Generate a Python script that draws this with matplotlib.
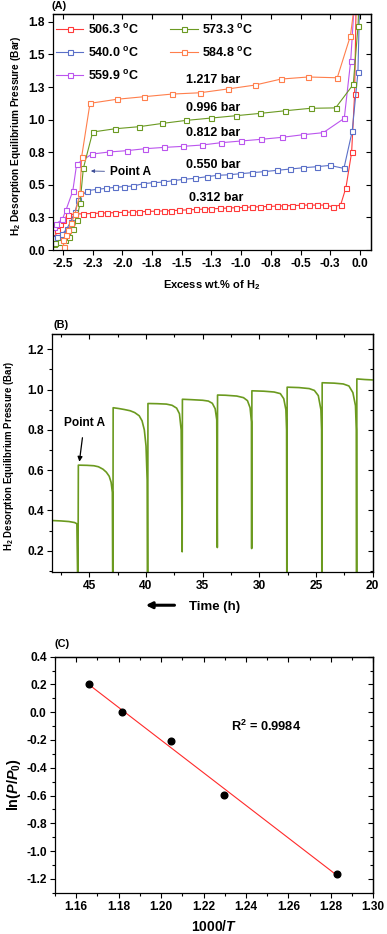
import matplotlib
matplotlib.use("Agg")
import numpy as np
from matplotlib import pyplot as plt
from matplotlib.ticker import MultipleLocator, FixedLocator, NullFormatter

plt.rcParams["font.family"] = ["Liberation Sans", "DejaVu Sans"]
plt.rcParams["font.weight"] = "bold"
plt.rcParams["axes.labelweight"] = "bold"
plt.rcParams["mathtext.fontset"] = "custom"
plt.rcParams["mathtext.rm"] = "Liberation Sans:bold"
plt.rcParams["mathtext.it"] = "Liberation Sans:italic:bold"
plt.rcParams["mathtext.bf"] = "Liberation Sans:bold"
plt.rcParams["axes.linewidth"] = 0.9

# ---- panel A: desorption isotherms ----
temps = ["506.3", "540.0", "559.9", "573.3", "584.8"]
colors = ["#ff3a3a", "#5b70c8", "#bb55ee", "#6b9a22", "#ff7f4c"]

red_x = [-2.58, -2.567, -2.548, -2.525, -2.503, -2.455, -2.40, -2.33, -2.26, -2.19,
         -2.13, -2.06, -1.99, -1.92, -1.86, -1.79, -1.72, -1.65, -1.59, -1.52,
         -1.45, -1.38, -1.31, -1.25, -1.18, -1.11, -1.04, -0.98, -0.91, -0.84,
         -0.77, -0.70, -0.64, -0.57, -0.50, -0.43, -0.36, -0.295, -0.23, -0.163,
         -0.118, -0.07, -0.045, -0.03]
red_y = [0.064, 0.102, 0.153, 0.200, 0.230, 0.270, 0.276, 0.278, 0.280, 0.283,
         0.285, 0.287, 0.289, 0.291, 0.293, 0.296, 0.298, 0.300, 0.302, 0.305,
         0.308, 0.311, 0.314, 0.316, 0.319, 0.322, 0.325, 0.327, 0.330, 0.332,
         0.334, 0.337, 0.339, 0.341, 0.343, 0.345, 0.344, 0.345, 0.332, 0.345,
         0.478, 0.749, 1.196, 2.0]

blue_x = [-2.58, -2.55, -2.51, -2.47, -2.435, -2.40, -2.371, -2.301, -2.217, -2.138,
          -2.062, -1.987, -1.908, -1.824, -1.745, -1.661, -1.577, -1.487, -1.389, -1.291,
          -1.201, -1.105, -1.010, -0.912, -0.808, -0.701, -0.589, -0.477, -0.365, -0.253,
          -0.135, -0.065, -0.017, 0.0]
blue_y = [0.09, 0.10, 0.12, 0.16, 0.217, 0.294, 0.383, 0.455, 0.465, 0.473,
          0.481, 0.486, 0.491, 0.509, 0.516, 0.521, 0.531, 0.542, 0.550, 0.562,
          0.573, 0.577, 0.585, 0.593, 0.601, 0.611, 0.621, 0.631, 0.639, 0.649,
          0.626, 0.912, 1.362, 2.0]

purple_x = [-2.58, -2.56, -2.506, -2.475, -2.418, -2.385, -2.256, -2.110, -1.964, -1.810,
            -1.650, -1.493, -1.333, -1.170, -1.002, -0.833, -0.659, -0.482, -0.309, -0.132,
            -0.078, -0.04]
purple_y = [0.18, 0.20, 0.235, 0.307, 0.452, 0.66, 0.736, 0.752, 0.762, 0.777,
            0.787, 0.795, 0.805, 0.823, 0.836, 0.849, 0.864, 0.884, 0.900, 1.01,
            1.449, 2.0]

green_x = [-2.58, -2.567, -2.525, -2.483, -2.447, -2.413, -2.385, -2.357, -2.329, -2.250,
           -2.062, -1.858, -1.664, -1.465, -1.254, -1.046, -0.839, -0.631, -0.415, -0.205,
           -0.056, -0.016, -0.005]
green_y = [0.045, 0.051, 0.064, 0.077, 0.102, 0.159, 0.230, 0.358, 0.626, 0.905,
           0.930, 0.946, 0.971, 0.994, 1.012, 1.030, 1.048, 1.068, 1.087, 1.090,
           1.270, 1.72, 2.0]

orange_x = [-2.495, -2.497, -2.477, -2.455, -2.431, -2.400, -2.357, -2.343, -2.273, -2.048,
            -1.816, -1.582, -1.347, -1.114, -0.884, -0.665, -0.435, -0.191, -0.080, -0.03]
orange_y = [0.025, 0.077, 0.115, 0.153, 0.205, 0.274, 0.435, 0.716, 1.125, 1.156,
            1.176, 1.196, 1.206, 1.235, 1.265, 1.311, 1.327, 1.321, 1.643, 2.0]

plateau_labels = ["1.217 bar", "0.996 bar", "0.812 bar", "0.550 bar", "0.312 bar"]

a_xticks = [-2.5, -2.25, -2.0, -1.75, -1.5, -1.25, -1.0, -0.75, -0.5, -0.25, 0.0]
a_xticklabels = ["-2.5", "-2.3", "-2.0", "-1.8", "-1.5", "-1.3", "-1.0", "-0.8", "-0.5", "-0.3", "0.0"]
a_yticks = [0.0, 0.25, 0.5, 0.75, 1.0, 1.25, 1.5, 1.75]
a_yticklabels = ["0.0", "0.3", "0.5", "0.8", "1.0", "1.3", "1.5", "1.8"]

# ---- panel B: pressure vs time ----
time_h = [48.27, 47.5, 46.8, 46.3, 46.1, 46.03,
          46.0, 45.97, 45.2, 44.6, 44.2, 43.8, 43.5, 43.25, 43.08, 42.97, 42.94,
          42.92, 42.9, 42.4, 41.9, 41.4, 41.0, 40.6, 40.35, 40.15, 40.0, 39.9, 39.87,
          39.85, 39.83, 39.0, 38.2, 37.7, 37.3, 37.05, 36.9, 36.81,
          36.79, 36.0, 35.0, 34.5, 34.15, 33.9, 33.76, 33.71,
          33.69, 33.0, 32.0, 31.4, 31.05, 30.82, 30.7, 30.68,
          30.66, 29.6, 28.7, 28.15, 27.85, 27.66, 27.6, 27.58,
          27.56, 27.55, 26.5, 25.6, 25.15, 24.8, 24.57, 24.51, 24.49,
          24.47, 24.46, 23.4, 22.6, 22.1, 21.75, 21.52, 21.45, 21.43,
          21.41, 21.40, 20.7, 20.0]
pressure_bar = [0.350, 0.348, 0.345, 0.340, 0.334, 0.05,
                0.05, 0.625, 0.624, 0.622, 0.617, 0.605, 0.590, 0.570, 0.540, 0.49, 0.05,
                0.05, 0.91, 0.906, 0.901, 0.895, 0.886, 0.870, 0.845, 0.80, 0.72, 0.55, 0.05,
                0.05, 0.931, 0.930, 0.928, 0.922, 0.908, 0.88, 0.80, 0.195,
                0.952, 0.950, 0.947, 0.943, 0.932, 0.905, 0.85, 0.216,
                0.973, 0.972, 0.968, 0.96, 0.945, 0.91, 0.84, 0.211,
                0.994, 0.992, 0.988, 0.98, 0.955, 0.90, 0.80, 0.05,
                0.05, 1.012, 1.010, 1.005, 0.996, 0.97, 0.90, 0.80, 0.05,
                0.05, 1.034, 1.032, 1.028, 1.018, 0.985, 0.92, 0.80, 0.05,
                0.05, 1.053, 1.050, 1.048]

# ---- panel C: van't Hoff ----
inv_T = [1.1658, 1.1816, 1.2049, 1.2298, 1.2829]
ln_p = [0.201, -0.001, -0.204, -0.599, -1.165]


def frame_ticks(ax, xmajor, ymajor, xminor=None, yminor=None):
    # origin-style: out on left/bottom, in on top/right
    ax.tick_params(which="both", direction="out", top=False, right=False, width=0.8, labelsize=8.6)
    ax.tick_params(which="major", length=3.5, pad=2.5)
    ax.tick_params(which="minor", length=2)
    top = ax.secondary_xaxis("top")
    right = ax.secondary_yaxis("right")
    top.xaxis.set_major_locator(xmajor())
    right.yaxis.set_major_locator(ymajor())
    if xminor:
        ax.xaxis.set_minor_locator(xminor())
        top.xaxis.set_minor_locator(xminor())
    if yminor:
        ax.yaxis.set_minor_locator(yminor())
        right.yaxis.set_minor_locator(yminor())
    top.xaxis.set_major_formatter(NullFormatter())
    right.yaxis.set_major_formatter(NullFormatter())
    for s in (top, right):
        s.tick_params(which="both", direction="in", width=0.8)
        s.tick_params(which="major", length=3.5)
        s.tick_params(which="minor", length=2)


fig = plt.figure(figsize=(3.87, 9.34), dpi=100)
ylab = "H$_\\mathrm{2}$ Desorption Equilibrium Pressure (Bar)"

# panel A
axA = fig.add_axes([0.1377, 0.7323, 0.820, 0.2527])
series = [(red_x, red_y), (blue_x, blue_y), (purple_x, purple_y), (green_x, green_y), (orange_x, orange_y)]
for (xs, ys), t, c in zip(series, temps, colors):
    axA.plot(xs, ys, "-s", color=c, lw=0.8, ms=3.6, mfc="white", mec=c, mew=0.8,
             label=t + " $^\\mathrm{o}$C")
axA.set_xlim(-2.582, 0.09)
axA.set_ylim(0, 1.81)
axA.set_xticks(a_xticks, a_xticklabels)
axA.set_yticks(a_yticks, a_yticklabels)
frame_ticks(axA, lambda: FixedLocator(a_xticks), lambda: FixedLocator(a_yticks))
axA.set_xlabel("Excess wt.% of H$_\\mathrm{2}$", fontsize=8)
axA.xaxis.set_label_coords(0.5, -0.118)
axA.set_ylabel(ylab, fontsize=7.3)
axA.yaxis.set_label_coords(-0.097, 0.483)
axA.legend(loc="upper left", bbox_to_anchor=(0.0, 0.975), ncol=2, frameon=False,
           fontsize=9, handlelength=2.2, handletextpad=0.35, columnspacing=2.5,
           labelspacing=0.72, borderpad=0.2, borderaxespad=0.0)
label_pos = [(-1.465, 1.304), (-1.465, 1.087), (-1.465, 0.895), (-1.465, 0.652), (-1.437, 0.396)]
for txt, (x, y) in zip(plateau_labels, label_pos):
    axA.text(x, y, txt, fontsize=9, ha="left", va="center")
axA.annotate("Point A", xy=(-2.265, 0.606), xytext=(-2.104, 0.600), fontsize=8.6, va="center",
             arrowprops=dict(arrowstyle="-|>", color="#3a4a95", lw=0.6, mutation_scale=5,
                             shrinkA=2, shrinkB=0))
fig.text(0.134, 0.9936, "(A)", fontsize=7.8, va="center")

# panel B
axB = fig.add_axes([0.1351, 0.3879, 0.828, 0.2545])
axB.plot(time_h, pressure_bar, color="#6b9a1f", lw=1.2)
axB.set_xlim(48.27, 20)
axB.set_ylim(0.096, 1.276)
axB.xaxis.set_major_locator(MultipleLocator(5))
axB.yaxis.set_major_locator(MultipleLocator(0.2))
frame_ticks(axB, lambda: MultipleLocator(5), lambda: MultipleLocator(0.2),
            lambda: MultipleLocator(2.5), lambda: MultipleLocator(0.1))
axB.set_ylabel(ylab, fontsize=6.9)
axB.yaxis.set_label_coords(-0.112, 0.49)
axB.annotate("Point A", xy=(45.88, 0.642), xytext=(45.45, 0.832), fontsize=8.6,
             ha="center", va="center",
             arrowprops=dict(arrowstyle="-|>", color="black", lw=0.9, mutation_scale=7,
                             shrinkA=4, shrinkB=0))
axB.text(0.505, -0.148, "Time (h)", transform=axB.transAxes, fontsize=9.5, ha="center", va="center")
axB.annotate("", xy=(0.283, -0.141), xytext=(0.39, -0.141), xycoords="axes fraction",
             textcoords="axes fraction", annotation_clip=False,
             arrowprops=dict(arrowstyle="-|>", color="black", lw=2.2, mutation_scale=9))
fig.text(0.137, 0.652, "(B)", fontsize=7.8, va="center")

# panel C
axC = fig.add_axes([0.1421, 0.0442, 0.8225, 0.2527])
fit = np.polyfit(inv_T, ln_p, 1)
fx = np.array([inv_T[0], inv_T[-1]])
axC.plot(fx, np.polyval(fit, fx), color="#ff2a2a", lw=0.8)
axC.plot(inv_T, ln_p, "o", color="black", ms=4.8)
axC.set_xlim(1.15, 1.30)
axC.set_ylim(-1.3, 0.4)
axC.xaxis.set_major_locator(MultipleLocator(0.02))
axC.yaxis.set_major_locator(MultipleLocator(0.2))
axC.xaxis.set_major_formatter(plt.FormatStrFormatter("%.2f"))
axC.yaxis.set_major_formatter(plt.FormatStrFormatter("%.1f"))
frame_ticks(axC, lambda: MultipleLocator(0.02), lambda: MultipleLocator(0.2),
            lambda: MultipleLocator(0.01), lambda: MultipleLocator(0.1))
axC.text(1.2331, -0.105, "R$^\\mathrm{2}$ = 0.9984", fontsize=9.2, ha="left", va="center")
axC.set_xlabel("1000/$\\mathit{T}$", fontsize=10)
axC.xaxis.set_label_coords(0.5, -0.112)
axC.set_ylabel("ln($\\mathit{P}$/$\\mathit{P}_\\mathrm{0}$)", fontsize=10.4)
axC.yaxis.set_label_coords(-0.10, 0.46)
fig.text(0.142, 0.3105, "(C)", fontsize=7.8, va="center")

fig.savefig("out.png", dpi=100)
